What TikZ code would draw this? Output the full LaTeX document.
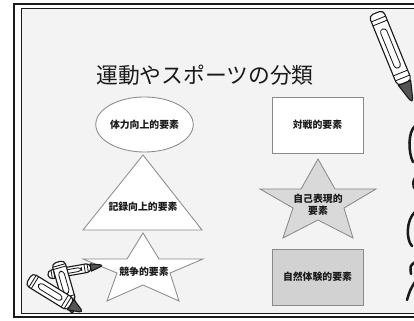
\documentclass[tikz,border=0pt]{standalone}
\usepackage{fontspec}
\setmainfont{Noto Sans CJK JP}
\usetikzlibrary{shapes.geometric}
\definecolor{cPage}{HTML}{F3F3F3}
\definecolor{cEdge}{HTML}{8A8A8A}
\definecolor{cInk}{HTML}{1A1A1A}
\definecolor{cStar}{HTML}{D9D9D9}
\definecolor{cBox}{HTML}{D2D2D2}
\definecolor{cTip}{HTML}{555555}
\tikzset{
  shp/.style={draw=cEdge,line width=0.6pt,fill=white},
  lbl/.style={font=\bfseries\fontsize{7}{8.5}\selectfont,text=cInk,align=center,inner sep=0pt},
  ttl/.style={font=\fontsize{15.5}{18}\selectfont,text=cInk,inner sep=0pt},
  cray/.style={draw=cInk,line width=0.8pt,line join=round},
  pics/crayon/.style={code={
    \draw[cray,fill=white,rounded corners=3] (0,-7) -- (70,-7) -- (70,7) -- (0,7) -- cycle;
    \draw[cray,fill=cTip] (70,-6) -- (86,-1.5) -- (88,0) -- (86,1.5) -- (70,6) -- cycle;
    \foreach \b in {6,10,60,65} \draw[cray,line width=0.6pt] (\b,-7) -- (\b,7);
    \draw[cray,line width=0.6pt,rounded corners=2.5] (16,-3) rectangle (55,3);
  }},
}
\begin{document}
\begin{tikzpicture}[x=0.025cm,y=-0.025cm]
  \useasboundingbox (0,0) rectangle (414,321);
  \clip (0,0) rectangle (414,321);
  \fill[white] (0,0) rectangle (414,321);
  % double frame, runs off to the right
  \fill[cPage] (21,8) rectangle (430,313);
  \draw[cInk,line width=1.1pt] (14,4) rectangle (432,317);
  \draw[cInk,line width=0.7pt] (21,8) rectangle (426,313);

  \node[ttl] (T) at (205,75) {運動やスポーツの分類};

  % left column
  \node[shp,ellipse,minimum width=2.425cm,minimum height=1.375cm,lbl] (TR) at (144.5,124.5) {体力向上的要素};
  \draw[shp] (143,155) -- (202,230) -- (83,230) -- cycle;
  \node[lbl] (KR) at (143,207) {記録向上的要素};
  \draw[shp] (143,233) -- (159,259) -- (203,259) -- (170,273) -- (179,301)
    -- (143,285) -- (107,301) -- (117,273) -- (83,259) -- (127,259) -- cycle;
  \node[lbl] (KS) at (144,272) {競争的要素};

  % right column
  \node[shp,rectangle,minimum width=2.275cm,minimum height=1.4cm,lbl] (TS) at (317.5,125) {対戦的要素};
  \draw[shp,fill=cStar] (318,159) -- (335,189) -- (376,189) -- (344,208) -- (353,238)
    -- (318,220) -- (283,238) -- (293,208) -- (260,189) -- (301,189) -- cycle;
  \node[lbl] (JH) at (318,205) {自己表現的\\要素};
  \node[shp,rectangle,fill=cBox,minimum width=2.275cm,minimum height=1.4cm,lbl] (SS) at (317.5,277) {自然体験的要素};

  % crayons
  \pic[rotate=-67.8,xscale=1.08,yscale=1.1] at (376,13) {crayon};
  \pic[rotate=10,xscale=0.62,yscale=0.62] at (48,275) {crayon};
  \pic[rotate=-74,xscale=0.6,yscale=0.95] at (58,262) {crayon};
  \pic[rotate=-31.6,xscale=0.7,yscale=1.0] at (29,279) {crayon};

  % scribble at the right edge
  \draw[cInk,line width=1.8pt,line cap=round] (415,126) .. controls (408,132) and (408,152) .. (413,162);
  \draw[cInk,line width=1.8pt,line cap=round] (415,178) .. controls (413,182) .. (414,188);
  \draw[cInk,line width=1.8pt,line cap=round] (415,212) .. controls (406,220) and (406,240) .. (412,246);
  \draw[cInk,line width=1.8pt,line cap=round] (415,262) .. controls (410,266) .. (411,274);
  \draw[cInk,line width=1.8pt,line cap=round] (415,282) .. controls (410,290) .. (407,300);
\end{tikzpicture}
\end{document}
